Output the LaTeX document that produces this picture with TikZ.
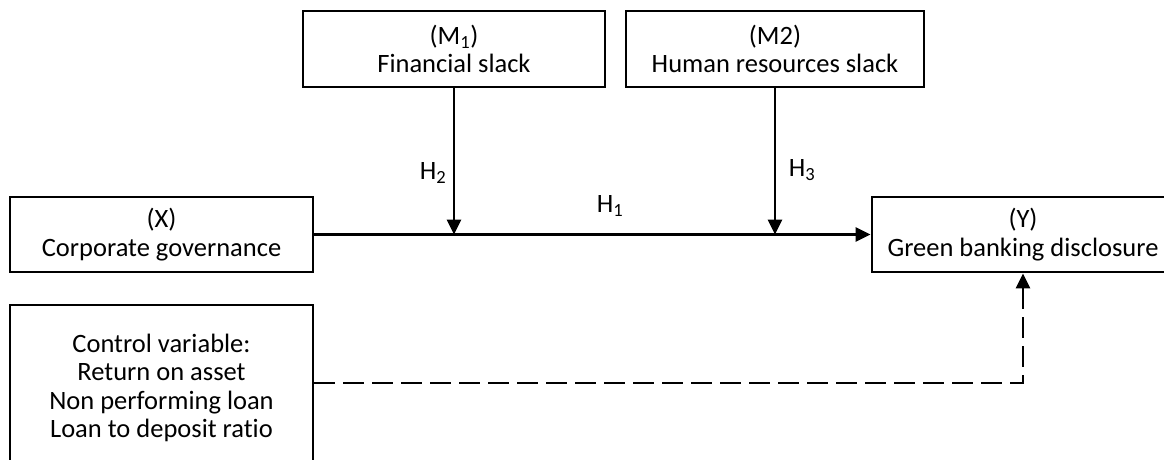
\documentclass[tikz,border=0pt]{standalone}
\usepackage{fontspec}
\setmainfont[Ligatures=NoCommon]{Carlito}
\usetikzlibrary{arrows.meta}
\begin{document}
\begin{tikzpicture}[x=1pt,y=-1pt,
  box/.style={draw, line width=2.9pt, align=center, inner sep=0pt,
    font=\fontsize{26.5}{28.5}\selectfont},
  lbl/.style={inner sep=0pt, font=\fontsize{26.5}{28.5}\selectfont},
  arr/.style={line width=2.9pt, -{Triangle[length=15pt,width=14pt]}},
  darr/.style={line width=2.9pt, dash pattern=on 21pt off 8pt, -{Triangle[length=15pt,width=14pt]}}]
\useasboundingbox (0,0) rectangle (1164,459);
\clip (0,0) rectangle (1164,459);
\node[box, minimum width=302pt, minimum height=76pt] (M1) at (454,49) {(M\textsubscript{1})\\Financial slack};
\node[box, minimum width=298pt, minimum height=76pt] (M2) at (775,49) {(M2)\\Human resources slack};
\node[box, minimum width=303pt, minimum height=75pt] (X) at (161.5,234.5) {(X)\\Corporate governance};
\node[box, minimum width=302pt, minimum height=75pt] (Y) at (1023,234.5) {(Y)\\Green banking disclosure};
\node[box, minimum width=303pt, minimum height=166pt] (C) at (161.5,388) {Control variable:\\Return on asset\\Non performing loan\\Loan to deposit ratio};
\coordinate (j1) at (M1.south |- X.east);
\coordinate (j2) at (M2.south |- X.east);
\draw[arr] (X.east) -- (Y.west);
\draw[arr] (M1.south) -- (j1);
\draw[arr] (M2.south) -- (j2);
\draw[darr] ([yshift=5pt]C.east) -| (Y.south);
\node[lbl] (h1) at (610,206) {H\textsubscript{1}};
\node[lbl] (h2) at (433,173) {H\textsubscript{2}};
\node[lbl] (h3) at (802,170) {H\textsubscript{3}};
\end{tikzpicture}
\end{document}
